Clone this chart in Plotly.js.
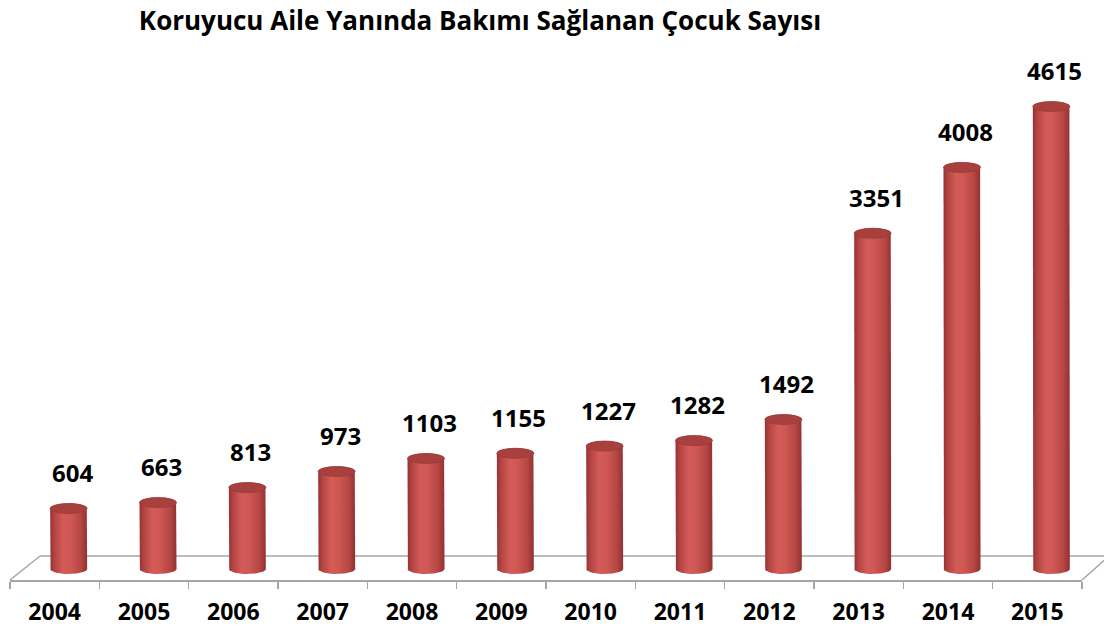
<!DOCTYPE html>
<html>
<head>
<meta charset="utf-8">
<script src="https://cdn.plot.ly/plotly-3.0.1.min.js"></script>
<style>html,body{margin:0;padding:0;background:#fff;}#chart{width:1104px;height:630px;}</style>
</head>
<body>
<div id="chart"></div>
<script>
// ---- data ----
var years = ['2004','2005','2006','2007','2008','2009','2010','2011','2012','2013','2014','2015'];
var counts = [604, 663, 813, 973, 1103, 1155, 1227, 1282, 1492, 3351, 4008, 4615];
var titleText = 'Koruyucu Aile Yanında Bakımı Sağlanan Çocuk Sayısı';

// ---- geometry / style ----
var W = 1104, H = 630;
var mL = 10, mR = 22, mT = 50, mB = 50;
var plotW = W - mL - mR, plotH = H - mT - mB;
var zeroPx = 569;                 // pixel row of value 0
var pxPerUnit = 0.1002;           // vertical scale
var yMin = -((H - mB) - zeroPx) / pxPerUnit;
var yMax = (zeroPx - mT) / pxPerUnit;
var unitPx = plotW / years.length; // pixels per category
var depthShift = 14 / unitPx;     // 3D shift of cylinders to the right
var hw = 18.5 / unitPx;           // half width of cylinder
var ry = 5 / pxPerUnit;           // ellipse half height in value units
var font = '"Open Sans", Lato, sans-serif';

var bodyScale = [[0,'#963231'],[0.12,'#b34543'],[0.35,'#d35b58'],[0.55,'#cf5754'],[0.82,'#b64744'],[1,'#923130']];

var traces = [];
var shapes = [];
var annotations = [];
var idx = years.map(function(_, i){ return i; });

idx.forEach(function(i){
  var v = counts[i];
  var xc = i + depthShift;
  var xs = [], ys = [];
  var N = 30, t, k;
  xs.push(xc - hw); ys.push(v);
  xs.push(xc - hw); ys.push(0);
  for (k = 0; k <= N; k++) { t = Math.PI * k / N; xs.push(xc - hw * Math.cos(t)); ys.push(-ry * Math.sin(t)); }
  xs.push(xc + hw); ys.push(v);
  for (k = 0; k <= N; k++) { t = Math.PI * k / N; xs.push(xc + hw * Math.cos(t)); ys.push(v + ry * Math.sin(t)); }
  traces.push({
    type: 'scatter', mode: 'lines', x: xs, y: ys, fill: 'toself',
    line: {width: 0, color: 'rgba(0,0,0,0)'},
    fillgradient: {type: 'horizontal', colorscale: bodyScale},
    hoverinfo: 'skip', showlegend: false
  });
  shapes.push({
    type: 'circle', xref: 'x', yref: 'y', layer: 'above',
    x0: xc - hw, x1: xc + hw, y0: v - ry, y1: v + ry,
    fillcolor: '#a8403e', line: {color: '#9a3836', width: 0.8}
  });
  annotations.push({
    x: xc + 0.04, y: v, xref: 'x', yref: 'y', yshift: 36,
    text: String(v), showarrow: false, xanchor: 'center', yanchor: 'middle',
    font: {family: font, size: 24, color: '#000', weight: 700}
  });
});

// floor (perspective plane)
var backY = (zeroPx - 556) / pxPerUnit;
var dxL = 30 / plotW, dxR = 27 / plotW;
var floorLine = {color: '#a6a6a6', width: 1.5};
shapes.push({type:'line', xref:'paper', yref:'y', layer:'below', x0:0, y0:yMin, x1:dxL, y1:backY, line:floorLine});
shapes.push({type:'line', xref:'paper', yref:'y', layer:'below', x0:dxL, y0:backY, x1:1+dxR, y1:backY, line:floorLine});
shapes.push({type:'line', xref:'paper', yref:'y', layer:'below', x0:1, y0:yMin, x1:1+dxR, y1:backY, line:floorLine});

var layout = {
  width: W, height: H,
  margin: {l: mL, r: mR, t: mT, b: mB, pad: 0},
  paper_bgcolor: '#fff', plot_bgcolor: 'rgba(0,0,0,0)',
  showlegend: false,
  title: {text: titleText, x: 480 / W, xanchor: 'center', xref: 'container', y: 1 - 21 / H, yanchor: 'middle', yref: 'container',
          font: {family: font, size: 26, color: '#000', weight: 700}},
  xaxis: {
    range: [-0.5, years.length - 0.5], tickmode: 'array', tickvals: idx, ticktext: years,
    showgrid: false, zeroline: false, showline: true, linecolor: '#a6a6a6', linewidth: 1.5,
    ticks: '', ticklabelstandoff: 11, fixedrange: true,
    tickfont: {family: font, size: 23, color: '#000', weight: 700},
    minor: {tickmode: 'linear', tick0: -0.5, dtick: 1, ticks: 'outside', ticklen: 7, tickcolor: '#a6a6a6', tickwidth: 1.5, showgrid: false}
  },
  yaxis: {range: [yMin, yMax], visible: false, showgrid: false, zeroline: false, fixedrange: true},
  shapes: shapes,
  annotations: annotations
};

Plotly.newPlot('chart', traces, layout, {displayModeBar: false, staticPlot: true});
</script>
</body>
</html>
